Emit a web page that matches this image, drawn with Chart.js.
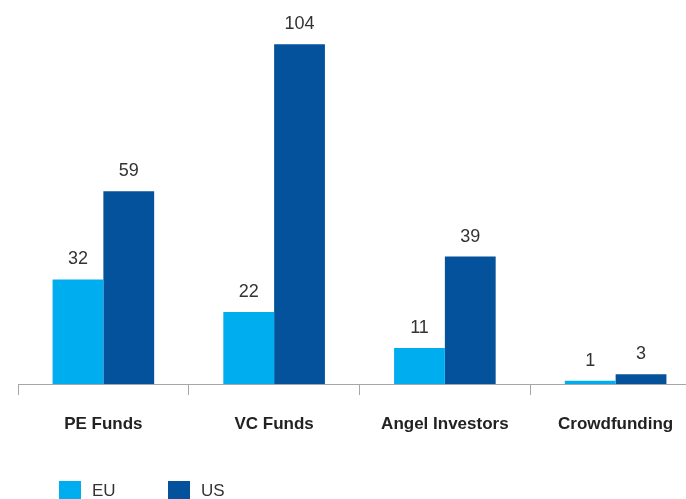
<!DOCTYPE html>
<html>
<head>
<meta charset="utf-8">
<style>
  html, body { margin: 0; padding: 0; background: #fff; overflow: hidden; }
  #wrap { width: 701px; height: 499px; }
</style>
<script src="https://cdn.jsdelivr.net/npm/chart.js@4"></script>
</head>
<body>
<div id="wrap"><canvas id="chart" width="701" height="499"></canvas></div>
<script>
// categories and series
const categories = ['PE Funds', 'VC Funds', 'Angel Investors', 'Crowdfunding'];
const euValues = [32, 22, 11, 1];
const usValues = [59, 104, 39, 3];
const seriesNames = ['EU', 'US'];

const FONT = '"Liberation Sans", Arial, Helvetica, sans-serif';

// value labels over the bars
const valueLabels = {
    id: 'valueLabels',
    afterDatasetsDraw(chart) {
        const ctx = chart.ctx;
        ctx.save();
        ctx.font = '18px ' + FONT;
        ctx.fillStyle = '#333';
        ctx.textAlign = 'center';
        ctx.textBaseline = 'alphabetic';
        chart.data.datasets.forEach((ds, i) => {
            chart.getDatasetMeta(i).data.forEach((bar, j) => {
                ctx.fillText(ds.data[j], bar.x, bar.y - 15);
            });
        });
        ctx.restore();
    }
};

// simple legend at the bottom left
const bottomLegend = {
    id: 'bottomLegend',
    afterDraw(chart) {
        const ctx = chart.ctx;
        const spots = [59, 168];
        ctx.save();
        ctx.font = '17px ' + FONT;
        ctx.textBaseline = 'middle';
        chart.data.datasets.forEach((ds, i) => {
            ctx.fillStyle = ds.backgroundColor;
            ctx.fillRect(spots[i], 481, 22, 20);
            ctx.fillStyle = '#333';
            ctx.fillText(ds.label, spots[i] + 33, 491);
        });
        ctx.restore();
    }
};

const chart = new Chart(document.getElementById('chart'), {
    type: 'bar',
    data: {
        labels: categories,
        datasets: [
            { label: seriesNames[0], data: euValues, backgroundColor: '#00aeef' },
            { label: seriesNames[1], data: usValues, backgroundColor: '#03529b' }
        ]
    },
    options: {
        responsive: false,
        animation: false,
        layout: { padding: { left: 18, right: 0, top: 5, bottom: 0 } },
        plugins: {
            legend: { display: false },
            tooltip: { enabled: false }
        },
        datasets: {
            bar: { categoryPercentage: 0.595, barPercentage: 1 }
        },
        scales: {
            x: {
                grid: {
                    offset: true,
                    drawOnChartArea: false,
                    drawTicks: true,
                    tickLength: 11,
                    color: '#a6a6a6'
                },
                border: { color: '#a6a6a6', width: 1 },
                ticks: {
                    padding: 19,
                    color: '#222',
                    font: { family: FONT, size: 17, weight: 'bold' }
                },
                afterFit(scale) { scale.height = 115; }
            },
            y: {
                display: false,
                min: 0,
                max: 116
            }
        }
    },
    plugins: [valueLabels, bottomLegend]
});
</script>
</body>
</html>
